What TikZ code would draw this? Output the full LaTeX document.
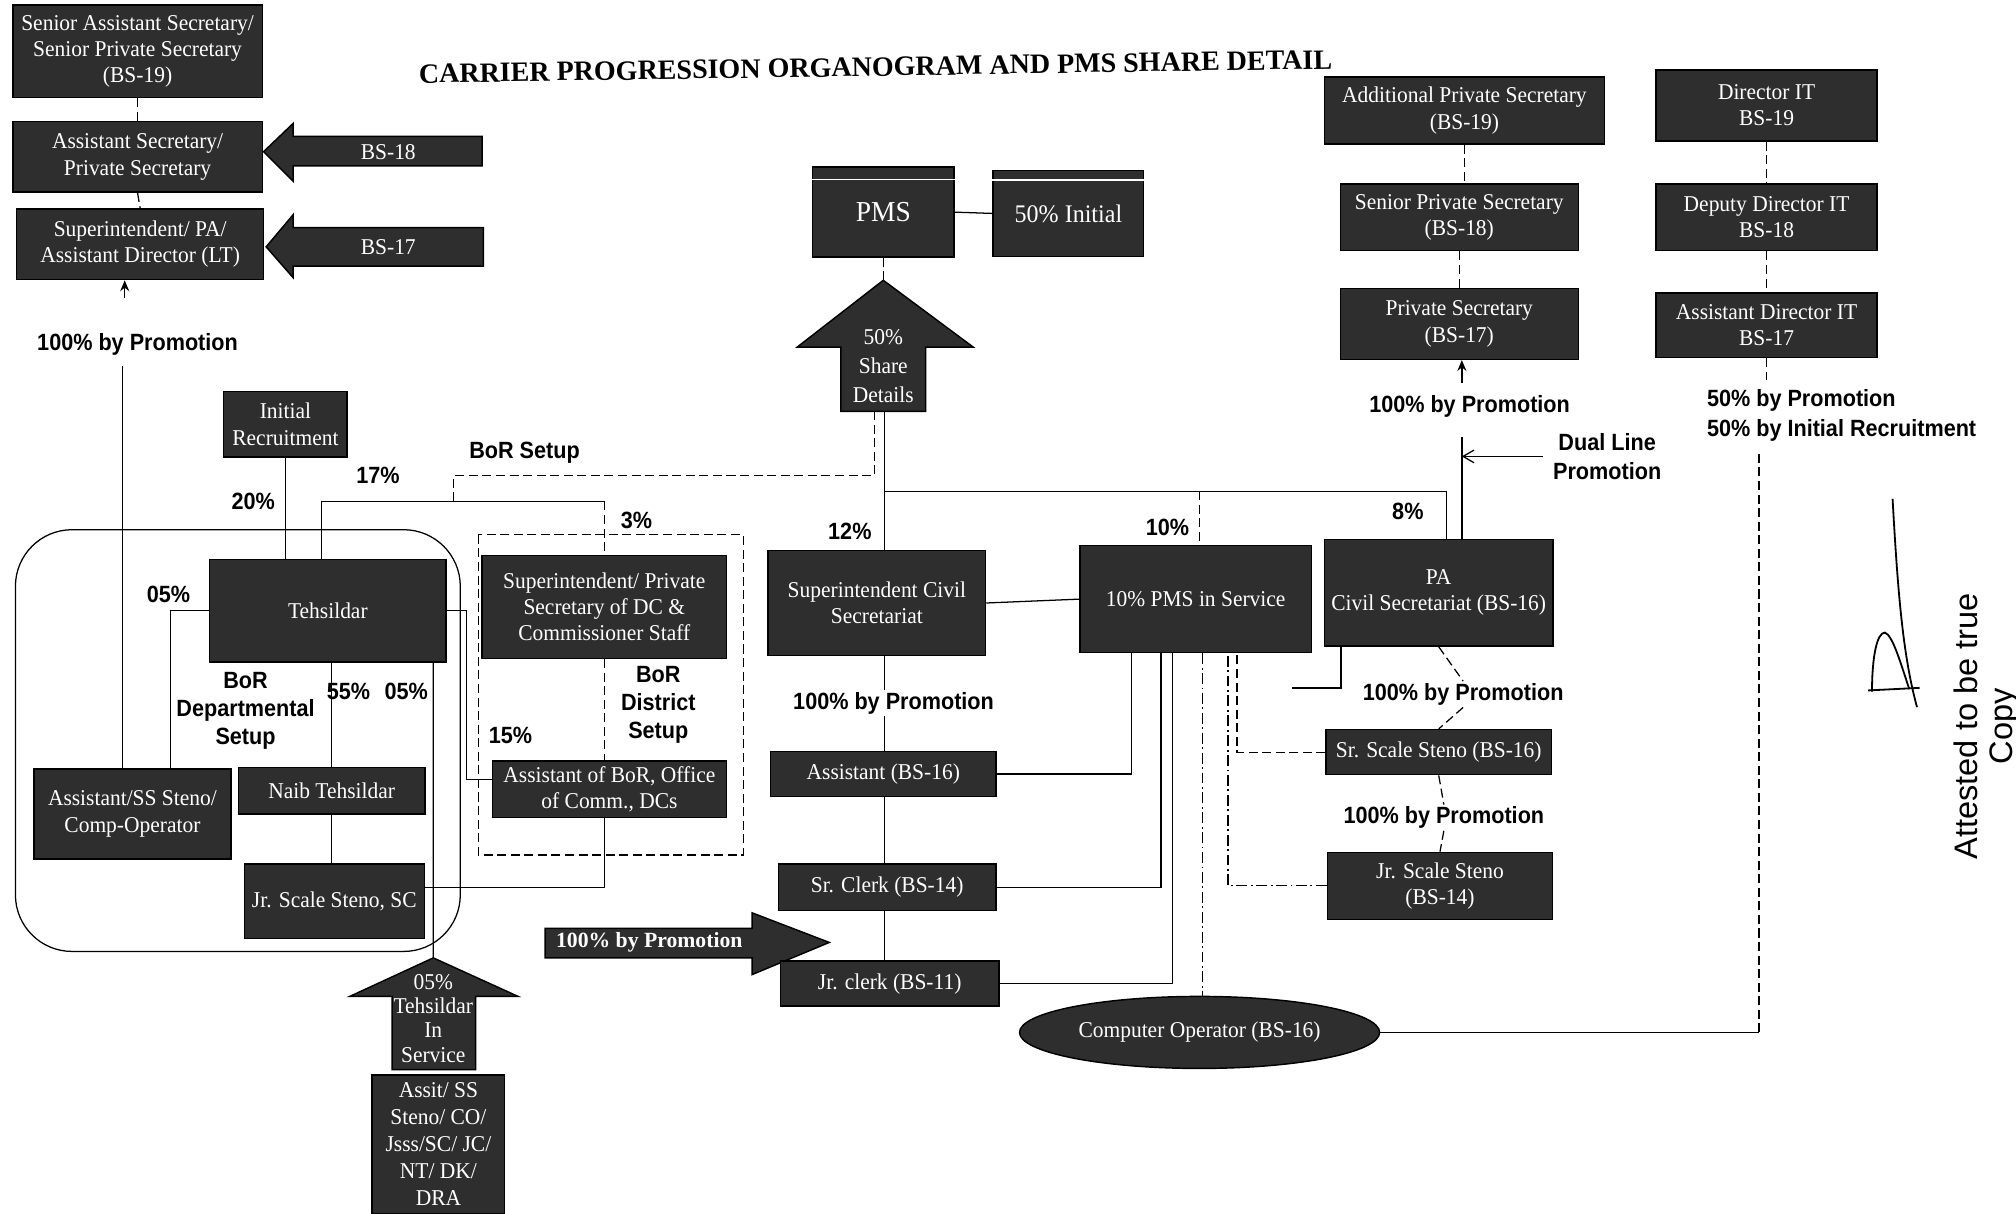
\documentclass[tikz,border=0pt]{standalone}
\usepackage{fontspec}
\setmainfont{Liberation Serif}
\newfontfamily\boxfont[FakeStretch=0.95]{Liberation Serif}
\newfontfamily\lblfont[FakeStretch=0.92]{Liberation Sans}
\newfontfamily\attfont{Liberation Sans}
\usetikzlibrary{arrows.meta, shapes.geometric}

\begin{document}
\begin{tikzpicture}[x=0.025cm, y=-0.025cm,
  every node/.style={text=black},
  ln/.style={draw=black, line width=0.7pt},
  dln/.style={ln, dash pattern=on 5pt off 2.5pt},
  ddln/.style={ln, dash pattern=on 6pt off 2pt on 1pt off 2pt},
  arr/.style={ln, -{Stealth[length=6pt,width=5pt]}},
  darkbox/.style={draw=black, line width=0.8pt, fill=black!82, text=white,
                  align=center, inner sep=1pt,
                  font=\boxfont\fontsize{12.5}{14.5}\selectfont},
  blockarr/.style={draw=black, line width=0.8pt, fill=black!82},
  arrtext/.style={text=white, align=center, inner sep=0pt,
                  font=\boxfont\fontsize{12.5}{14}\selectfont},
  lbl/.style={font=\lblfont\bfseries\fontsize{13}{16}\selectfont,
              align=center, inner sep=1pt}]

  \useasboundingbox (0,0) rectangle (1568,944);

  %% ═══════════════════════════════════════════════════════════════
  %% TITLE
  %% ═══════════════════════════════════════════════════════════════

  \node[font=\bfseries\fontsize{15.5}{18}\selectfont, rotate=0.9] (title) at (681,52)
      {CARRIER PROGRESSION ORGANOGRAM AND PMS SHARE DETAIL};

  %% ═══════════════════════════════════════════════════════════════
  %% LEFT COLUMN: BS-19 / BS-18 / BS-17
  %% ═══════════════════════════════════════════════════════════════

  \node[darkbox, minimum width=4.85cm, minimum height=1.8cm] (sas) at (107,40)
      {Senior Assistant Secretary/\\Senior Private Secretary\\(BS-19)};
  \node[darkbox, minimum width=4.85cm, minimum height=1.375cm] (asec) at (107,122)
      {Assistant Secretary/\\Private Secretary};
  \node[darkbox, minimum width=4.8cm, minimum height=1.375cm] (supa) at (109,190)
      {Superintendent/ PA/\\Assistant Director (LT)};

  \draw[dln] (sas.south) -- (asec.north);
  \draw[dln] (asec.south) -- (supa.north);

  \path[blockarr] (205,118) -- (228,96) -- (228,106) -- (375,106) -- (375,129)
      -- (228,129) -- (228,141) -- cycle;
  \node[arrtext] (bs18) at (302,118) {BS-18};
  \path[blockarr] (207,192) -- (228,167) -- (228,177) -- (376,177) -- (376,207)
      -- (228,207) -- (228,216) -- cycle;
  \node[arrtext] (bs17) at (302,192) {BS-17};

  \coordinate (supArr) at (97,232);
  \draw[arr] (supArr) -- (supArr |- supa.south);
  \node[lbl] (promL) at (107,268) {100\% by Promotion};

  %% ═══════════════════════════════════════════════════════════════
  %% BoR DEPARTMENTAL SETUP
  %% ═══════════════════════════════════════════════════════════════

  \draw[ln, rounded corners=1.1cm] (12,412) rectangle (358,740);

  \node[darkbox, minimum width=2.4cm, minimum height=1.275cm] (initrec) at (222,330)
      {Initial\\Recruitment};
  \node[darkbox, minimum width=4.6cm, minimum height=2.0cm] (teh) at (255,475)
      {Tehsildar};
  \node[darkbox, minimum width=3.825cm, minimum height=1.75cm] (asst) at (103,633)
      {Assistant/SS Steno/\\Comp-Operator};
  \node[darkbox, minimum width=3.625cm, minimum height=0.9cm] (naib) at (258,615)
      {Naib Tehsildar};
  \node[darkbox, minimum width=3.5cm, minimum height=1.45cm] (jrsc) at (260,701)
      {Jr. Scale Steno, SC};

  \node[lbl] (p20) at (197,390) {20\%};
  \node[lbl] (p17) at (294,370) {17\%};
  \node[lbl] (borset) at (408,352) {BoR Setup};
  \node[lbl] (p3) at (495,405) {3\%};
  \node[lbl] (p05a) at (131,462) {05\%};
  \node[lbl, font=\lblfont\bfseries\fontsize{13}{15.5}\selectfont] (bordep) at (191,553)
      {BoR\\Departmental\\Setup};
  \node[lbl] (p55) at (271,538) {55\%};
  \node[lbl] (p05b) at (316,538) {05\%};

  \coordinate (lineTop) at (95,285);
  \draw[ln] (lineTop) -- (lineTop |- asst.north);

  \draw[ln] (initrec.south) -- (initrec.south |- teh.north);
  \draw[ln] (teh.west) -| ([xshift=0.74cm]asst.north);
  \draw[ln] (teh.south -| naib.north) -- (naib.north);
  \draw[ln] (naib.south) -- (naib.south |- jrsc.north);

  %% ═══════════════════════════════════════════════════════════════
  %% BoR DISTRICT SETUP
  %% ═══════════════════════════════════════════════════════════════

  \draw[dln] (372,416) rectangle (578,665);

  \node[darkbox, minimum width=4.75cm, minimum height=2.0cm] (supdc) at (470,472)
      {Superintendent/ Private\\Secretary of DC \&\\Commissioner Staff};
  \node[darkbox, minimum width=4.55cm, minimum height=1.1cm] (asbor) at (474,614)
      {Assistant of BoR, Office\\of Comm., DCs};

  \node[lbl, font=\lblfont\bfseries\fontsize{13}{15.5}\selectfont] (bordist) at (512,548)
      {BoR\\District\\Setup};
  \node[lbl] (p15) at (397,572) {15\%};

  \coordinate (t17) at (250,390);
  \coordinate (t3) at (470,390);
  \coordinate (borX) at (470,636);
  \draw[ln] (t17 |- teh.north) -- (t17) -- (t3);
  \draw[dln] (t3) -- (supdc.north);
  \draw[dln] (supdc.south) -- (supdc.south |- asbor.north);
  \draw[ln] (teh.east) -- ++(15,0) |- ([yshift=0.2cm]asbor.west);
  \draw[ln] ([yshift=0.275cm]jrsc.east) -| (borX);

  %% ═══════════════════════════════════════════════════════════════
  %% 05% TEHSILDAR IN SERVICE
  %% ═══════════════════════════════════════════════════════════════

  \coordinate (tisTip) at (337,745);
  \path[blockarr] (tisTip) -- (403,775) -- (370,775) -- (370,832) -- (305,832)
      -- (305,775) -- (272,775) -- cycle;
  \node[arrtext, font=\boxfont\fontsize{12.5}{13.5}\selectfont] (tis) at (337,792)
      {05\%\\Tehsildar\\In\\Service};
  \draw[ln] ([xshift=2.05cm]teh.south) -- (tisTip);

  \node[darkbox, minimum width=2.575cm, minimum height=2.7cm,
        font=\boxfont\fontsize{12.5}{15}\selectfont] (assit) at (341,890)
      {Assit/ SS\\Steno/ CO/\\Jsss/SC/ JC/\\NT/ DK/\\DRA};

  \path[blockarr] (424,722) -- (585,722) -- (585,710) -- (645,733) -- (585,758)
      -- (585,745) -- (424,745) -- cycle;
  \node[arrtext, font=\bfseries\fontsize{12}{13}\selectfont] (promArr) at (505,733)
      {100\% by Promotion};

  %% ═══════════════════════════════════════════════════════════════
  %% PMS + CIVIL SECRETARIAT
  %% ═══════════════════════════════════════════════════════════════

  \node[darkbox, minimum width=2.75cm, minimum height=1.75cm,
        font=\boxfont\fontsize{16}{18}\selectfont] (pms) at (687,165) {PMS};
  \node[darkbox, minimum width=2.925cm, minimum height=1.675cm,
        font=\boxfont\fontsize{14}{16}\selectfont] (init50) at (831,166) {50\% Initial};
  \draw[white, line width=0.8pt] ([yshift=-0.25cm]pms.north west) -- ([yshift=-0.25cm]pms.north east);
  \draw[white, line width=0.8pt] ([yshift=-0.2cm]init50.north west) -- ([yshift=-0.2cm]init50.north east);
  \draw[ln] (pms.east) -- (init50.west);

  \coordinate (shareTip) at (687,218);
  \coordinate (shareFoot) at (688,320);
  \coordinate (borFoot) at (680,320);
  \path[blockarr] (shareTip) -- (757,270) -- (720,270) -- (720,320) -- (654,320)
      -- (654,270) -- (620,270) -- cycle;
  \node[arrtext, font=\boxfont\fontsize{12.5}{16}\selectfont] (share) at (687,285)
      {50\%\\Share\\Details};
  \draw[dln] (pms.south) -- (shareTip);

  \coordinate (borA) at (353,390);
  \draw[dln] (borA) -- ++(0,-20) -| (borFoot);

  \node[darkbox, minimum width=4.225cm, minimum height=2.05cm] (supcs) at (682,469)
      {Superintendent Civil\\Secretariat};
  \node[lbl] (promM) at (695,547) {100\% by Promotion};
  \node[darkbox, minimum width=4.375cm, minimum height=0.875cm] (asst16) at (687,602)
      {Assistant (BS-16)};
  \node[darkbox, minimum width=4.225cm, minimum height=0.9cm] (srclerk) at (690,690)
      {Sr. Clerk (BS-14)};
  \node[darkbox, minimum width=4.25cm, minimum height=0.875cm] (jrclerk) at (692,765)
      {Jr. clerk (BS-11)};

  \node[lbl] (p12) at (661,413) {12\%};
  \node[lbl] (p10) at (908,410) {10\%};
  \node[lbl] (p8) at (1095,398) {8\%};

  \draw[ln] (shareFoot) -- (shareFoot |- supcs.north);
  \draw[ln] (supcs.south -| shareFoot) -- (promM.north -| shareFoot);
  \draw[ln] (promM.south -| shareFoot) -- (asst16.north -| shareFoot);
  \draw[ln] (asst16.south -| shareFoot) -- (srclerk.north -| shareFoot);
  \draw[ln] (srclerk.south -| shareFoot) -- (jrclerk.north -| shareFoot);

  %% ═══════════════════════════════════════════════════════════════
  %% 10% PMS IN SERVICE + PA
  %% ═══════════════════════════════════════════════════════════════

  \node[darkbox, minimum width=4.5cm, minimum height=2.075cm] (pmsis) at (930,466)
      {10\% PMS in Service};
  \node[darkbox, minimum width=4.45cm, minimum height=2.075cm] (pa) at (1119,461)
      {PA\\Civil Secretariat (BS-16)};
  \node[darkbox, minimum width=4.375cm, minimum height=0.875cm] (srss) at (1119,585)
      {Sr. Scale Steno (BS-16)};
  \node[darkbox, minimum width=4.375cm, minimum height=1.3cm] (jrss) at (1120,689)
      {Jr. Scale Steno\\(BS-14)};
  \node[darkbox, ellipse, minimum width=7cm, minimum height=1.4cm] (compop) at (933,803)
      {Computer Operator (BS-16)};

  \node[lbl] (promPA) at (1138,540) {100\% by Promotion};
  \node[lbl] (promSS) at (1123,636) {100\% by Promotion};

  \coordinate (jMid) at (688,382);
  \coordinate (j8) at (1125,382);
  \coordinate (j10) at (933,382);
  \draw[ln] (jMid) -- (j8) -- (j8 |- pa.north);
  \draw[dln] (j10) -- (j10 |- pmsis.north);
  \draw[ln] (supcs.east) -- (pmsis.west);

  \draw[ln] (asst16.east) -| ([xshift=-1.25cm]pmsis.south);
  \draw[ln] (srclerk.east) -| ([xshift=-0.675cm]pmsis.south);
  \draw[ln] (jrclerk.east) -| ([xshift=-0.45cm]pmsis.south);
  \draw[ddln] ([xshift=0.125cm]pmsis.south) -- ([xshift=0.125cm]pmsis.south |- compop.north);
  \draw[ddln] (jrss.west) -| ([xshift=0.625cm]pmsis.south);
  \draw[dln] (srss.west) -| ([xshift=0.8cm]pmsis.south);

  \draw[ln] ([xshift=-1.9cm]pa.south) -- ++(0,32) -- ++(-38,0);
  \draw[dln] (pa.south) -- (promPA.north);
  \draw[dln] (promPA.south) -- (srss.north);
  \draw[dln] (srss.south) -- (promSS.north);
  \draw[dln] (promSS.south) -- (jrss.north);

  %% ═══════════════════════════════════════════════════════════════
  %% RIGHT COLUMNS: PRIVATE SECRETARY / DIRECTOR IT
  %% ═══════════════════════════════════════════════════════════════

  \node[darkbox, minimum width=5.45cm, minimum height=1.3cm] (aps) at (1139,86)
      {Additional Private Secretary\\(BS-19)};
  \node[darkbox, minimum width=4.625cm, minimum height=1.3cm] (sps) at (1135,169)
      {Senior Private Secretary\\(BS-18)};
  \node[darkbox, minimum width=4.625cm, minimum height=1.375cm] (ps) at (1135,252)
      {Private Secretary\\(BS-17)};

  \draw[dln] (aps.south) -- (aps.south |- sps.north);
  \draw[dln] (sps.south) -- (ps.north);

  \coordinate (psArr) at (1137,298);
  \draw[arr] (psArr) -- (psArr |- ps.south);
  \node[lbl] (promR) at (1143,316) {100\% by Promotion};

  \coordinate (dualTop) at (1137,340);
  \draw[ln] (dualTop) -- (dualTop |- pa.north);
  \node[lbl] (dual) at (1250,355) {Dual Line\\Promotion};
  \draw[ln, -{Straight Barb[length=6pt,width=7pt]}] ([xshift=-0.15cm]dual.west) -- (dualTop |- dual.west);

  \node[darkbox, minimum width=4.3cm, minimum height=1.375cm] (dit) at (1374,82)
      {Director IT\\BS-19};
  \node[darkbox, minimum width=4.3cm, minimum height=1.3cm] (ddit) at (1374,169)
      {Deputy Director IT\\BS-18};
  \node[darkbox, minimum width=4.3cm, minimum height=1.25cm] (adit) at (1374,253)
      {Assistant Director IT\\BS-17};

  \draw[dln] (dit.south) -- (ddit.north);
  \draw[dln] (ddit.south) -- (adit.north);
  \draw[dln] (adit.south) -- ++(0,17);

  \node[lbl, align=left, anchor=west, font=\lblfont\bfseries\fontsize{13}{16.5}\selectfont]
      (itLbl) at (1326,323) {50\% by Promotion\\50\% by Initial Recruitment};

  \coordinate (itLine) at (1368,350);
  \draw[ln] (compop.east) -- (compop.east -| itLine);
  \draw[dln] (compop.east -| itLine) -- (itLine);

  %% ═══════════════════════════════════════════════════════════════
  %% ATTESTATION
  %% ═══════════════════════════════════════════════════════════════

  \node[rotate=90, align=center, font=\attfont\fontsize{18}{19}\selectfont] (attest)
      at (1545,565) {Attested to be true\\Copy};
  \draw[line width=1pt] (1472,388) .. controls (1476,460) and (1480,510) .. (1491,550);
  \draw[line width=1pt] (1456,538) .. controls (1456,510) and (1460,492) .. (1466,492)
      .. controls (1472,494) and (1478,515) .. (1485,536);
  \draw[line width=1pt] (1453,537) -- (1493,535);

\end{tikzpicture}
\end{document}
